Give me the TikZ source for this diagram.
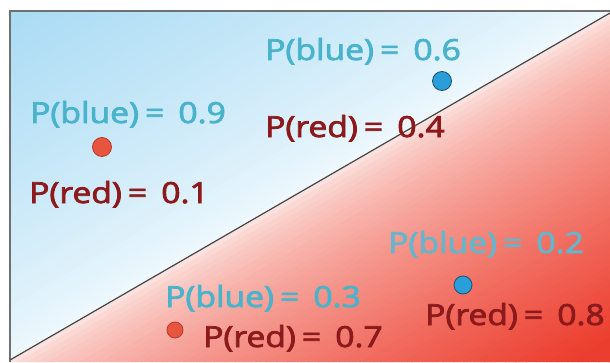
\documentclass[tikz,border=0pt]{standalone}
\usepackage{fontspec}
\setmainfont{Open Sans}[FakeBold=2.5]
\definecolor{bluehi}{HTML}{A9DBF4}
\definecolor{bluelo}{HTML}{EEF8FD}
\definecolor{redlo}{HTML}{FCE2DE}
\definecolor{redhi}{HTML}{EC3E2E}
\definecolor{txtblue}{HTML}{48B3CB}
\definecolor{txtbluefade}{HTML}{66B6CB}
\definecolor{txtred}{HTML}{8C1A1C}
\definecolor{dotredfill}{HTML}{E8553F}
\definecolor{dotredline}{HTML}{B83A2A}
\definecolor{dotbluefill}{HTML}{2A9ED8}
\definecolor{dotblueline}{HTML}{1F4F6E}
\definecolor{framegray}{HTML}{707070}
\definecolor{diaggray}{HTML}{454545}
\begin{document}
\begin{tikzpicture}[x=1pt,y=1pt,
  lbl/.style={inner sep=0pt, anchor=base west, font=\fontsize{29}{30}\selectfont},
  bluetxt/.style={lbl, text=txtblue},
  redtxt/.style={lbl, text=txtred},
  dotr/.style={circle, fill=dotredfill, draw=dotredline, line width=0.8pt, inner sep=0pt},
  dotb/.style={circle, fill=dotbluefill, draw=dotblueline, line width=0.8pt, inner sep=0pt}]
\newcommand{\pb}[1]{\scalebox{1.16}[1]{P(blue)\hspace{0.18em}=\hspace{0.42em}#1}}
\newcommand{\pr}[1]{\scalebox{1.16}[1]{P(red)\hspace{0.18em}=\hspace{0.42em}#1}}
\useasboundingbox (0,0) rectangle (610,362);
\fill[white] (0,0) rectangle (610,362);
% blue half
\begin{scope}
  \clip (10,351) -- (610,351) -- (610,349) -- (10,2) -- cycle;
  \begin{scope}[rotate around={30.04:(310,175.5)}]
    \foreach \i in {0,...,60} {
      \pgfmathsetmacro{\pc}{100*(min(1,\i*5.2/302))^0.8}
      \fill[bluehi!\pc!bluelo] (-60,{175.5+\i*5.2}) rectangle (680,{175.5+\i*5.2+5.8});
    }
  \end{scope}
\end{scope}
% red half
\begin{scope}
  \clip (10,0) -- (10,2) -- (610,349) -- (610,0) -- cycle;
  \begin{scope}[rotate around={30.04:(310,175.5)}]
    \foreach \i in {0,...,60} {
      \pgfmathsetmacro{\pc}{100*(min(1,\i*5.2/280))^0.7}
      \fill[redhi!\pc!redlo] (-60,{175.5-\i*5.2}) rectangle (680,{175.5-\i*5.2-5.8});
    }
  \end{scope}
\end{scope}
% frame
\coordinate (fb) at (9.5,0);
\coordinate (ftl) at (9.5,351);
\coordinate (ftr) at (610,351);
\draw[framegray, line width=2pt] (fb) -- (ftl) -- (ftr);
% diagonal
\coordinate (d1) at (10,2);
\coordinate (d2) at (610,349);
\draw[diaggray, line width=1.2pt] (d1) -- (d2);
% dots
\node[dotr, minimum size=19pt] (r1) at (102,215) {};
\node[dotb, minimum size=19pt] (b1) at (442,281) {};
\node[dotr, minimum size=16pt] (r2) at (175,32) {};
\node[dotb, minimum size=18pt] (b2) at (463,77) {};
% labels
\node[bluetxt] (t06) at (265,302) {\pb{0.6}};
\node[redtxt]  (t04) at (265,225) {\pr{0.4}};
\node[bluetxt] (t09) at (30,239) {\pb{0.9}};
\node[redtxt]  (t01) at (29,159) {\pr{0.1}};
\node[bluetxt] (t03) at (165,55) {\pb{0.3}};
\node[redtxt]  (t07) at (203,15) {\pr{0.7}};
\node[bluetxt, text=txtbluefade] (t02) at (388,109) {\pb{0.2}};
\node[redtxt]  (t08) at (425,37) {\pr{0.8}};
\end{tikzpicture}
\end{document}
